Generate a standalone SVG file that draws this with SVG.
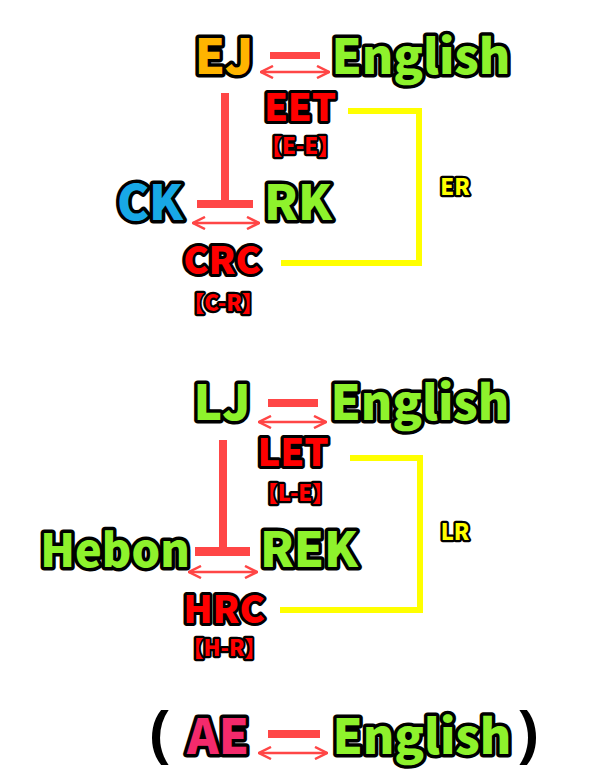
<svg xmlns="http://www.w3.org/2000/svg" width="600" height="780" viewBox="0 0 600 780">
<defs>
<style>
.t{font-family:"Noto Sans CJK JP","Noto Sans",sans-serif;font-weight:900;stroke:#000;stroke-linejoin:round;paint-order:stroke;text-anchor:middle}
.big{font-size:48px;stroke-width:7px}
.mid{font-size:38px;stroke-width:6px}
.sm{font-size:22px;stroke-width:4.5px}
.lab{font-size:22px;stroke-width:4.5px;fill:#FFFF00}
.g{fill:#8EF22C}
.r{fill:#FF0000}
.bar{fill:#FF4646}
.arr{stroke:#FF4646;stroke-width:2.5;fill:none;marker-start:url(#ah);marker-end:url(#ah)}
.yl{stroke:#FFFF00;stroke-width:6;fill:none}
.par{font-family:"Noto Sans","DejaVu Sans",sans-serif;font-weight:bold;font-size:62px;fill:#000;text-anchor:middle}
</style>
<marker id="ah" viewBox="0 0 14 14" refX="13" refY="7" markerWidth="14" markerHeight="14" markerUnits="userSpaceOnUse" orient="auto-start-reverse">
<path d="M1,1 L13,7 L1,13" fill="none" stroke="#FF4646" stroke-width="2.5"/>
</marker>
</defs>
<rect width="600" height="780" fill="#fff"/>

<g id="connectors">
<rect class="bar" x="270" y="52" width="50" height="7"/>
<path class="arr" d="M261,72 H329"/>
<rect class="bar" x="221" y="93" width="8" height="110"/>
<rect class="bar" x="197" y="200" width="56" height="8"/>
<path class="arr" d="M193,223 H259"/>
<path class="yl" d="M348,111 H419 V263 H281"/>

<rect class="bar" x="268" y="399" width="50" height="8"/>
<path class="arr" d="M259,422 H326"/>
<rect class="bar" x="219" y="440" width="8" height="110"/>
<rect class="bar" x="195" y="547" width="55" height="9"/>
<path class="arr" d="M189,572 H257"/>
<path class="yl" d="M350,458 H420 V610 H280"/>

<rect class="bar" x="268" y="730" width="52" height="8"/>
<path class="arr" d="M259,753 H327"/>
</g>

<g id="EJ"><text class="t big" x="224" y="74" fill="#FFB400">EJ</text></g>
<g id="English1"><text class="t big g" x="421" y="74">English</text></g>
<g id="EET"><text class="t mid r" x="300" y="121">EET</text><text class="t sm r" x="300" y="154">【E-E】</text></g>
<g id="CK"><text class="t big" x="150" y="220" fill="#18A8E6">CK</text></g>
<g id="RK"><text class="t big g" x="298" y="220">RK</text></g>
<g id="CRC"><text class="t mid r" x="222" y="274">CRC</text><text class="t sm r" x="223" y="311">【C-R】</text></g>
<g id="ER"><text class="t lab" x="455" y="195">ER</text></g>

<g id="LJ"><text class="t big g" x="222" y="420">LJ</text></g>
<g id="English2"><text class="t big g" x="420" y="420">English</text></g>
<g id="LET"><text class="t mid r" x="293" y="466">LET</text><text class="t sm r" x="295" y="501">【L-E】</text></g>
<g id="Hebon"><text class="t big g" x="115" y="567" style="font-size:45px">Hebon</text></g>
<g id="REK"><text class="t big g" x="309" y="567">REK</text></g>
<g id="HRC"><text class="t mid r" x="224" y="623">HRC</text><text class="t sm r" x="224" y="656">【H-R】</text></g>
<g id="LR"><text class="t lab" x="455" y="540">LR</text></g>

<g id="AE"><text class="par" x="160" y="755">(</text><text class="t big" x="218" y="754" fill="#F42A6C">AE</text></g>
<g id="English3"><text class="t big g" x="422" y="754">English</text><text class="par" x="528" y="755">)</text></g>
</svg>
